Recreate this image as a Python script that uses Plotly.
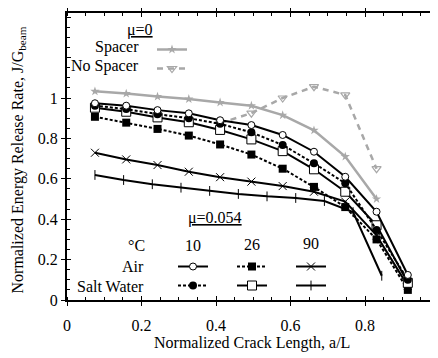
import plotly.graph_objects as go

# ---------------- data ----------------
x_main = [0.075, 0.159, 0.243, 0.327, 0.411, 0.495, 0.579, 0.663, 0.747, 0.831, 0.915]
air10 = [0.974, 0.962, 0.94, 0.924, 0.89, 0.866, 0.817, 0.734, 0.61, 0.437, 0.124]
salt10 = [0.962, 0.945, 0.92, 0.90, 0.872, 0.83, 0.767, 0.677, 0.578, 0.347, 0.10]
air26 = [0.907, 0.878, 0.847, 0.814, 0.77, 0.72, 0.65, 0.56, 0.46, 0.30, 0.05]
salt26 = [0.952, 0.932, 0.904, 0.88, 0.842, 0.795, 0.737, 0.647, 0.536, 0.37, 0.085]
air90 = [0.729, 0.696, 0.668, 0.635, 0.608, 0.586, 0.564, 0.536, 0.487, 0.32, 0.07]
x_salt90 = [0.075, 0.152, 0.229, 0.306, 0.383, 0.460, 0.537, 0.614, 0.691, 0.768, 0.845]
salt90 = [0.619, 0.594, 0.573, 0.556, 0.54, 0.525, 0.513, 0.505, 0.49, 0.435, 0.12]
x_spacer = [0.075, 0.159, 0.243, 0.327, 0.411, 0.495, 0.579, 0.663, 0.747, 0.831]
spacer = [1.033, 1.022, 1.007, 0.995, 0.978, 0.962, 0.915, 0.84, 0.71, 0.50]
x_nospacer = [0.411, 0.495, 0.579, 0.663, 0.747, 0.831]
nospacer = [0.875, 0.925, 1.0, 1.056, 1.015, 0.65]

y_label_vals = [0, 0.2, 0.4, 0.6, 0.8, 1.0]
y_label_text = ["0", "0.2", "0.4", "0.6", "0.8", "1"]
y_major_vals = [0, 0.2, 0.4, 0.6, 0.8, 1.0, 1.2, 1.4]
x_label_vals = [0, 0.2, 0.4, 0.6, 0.8]
x_label_text = ["0", "0.2", "0.4", "0.6", "0.8"]

# ---------------- layout helpers (page pixel coordinates) ----------------
OFF = 8                      # page body margin
FIG_W, FIG_H = 430, 350
PL, PR, PT, PB = 67, 438, 13, 300   # plot area in page pixels
PW, PH = PR - PL, PB - PT
FONT = "Liberation Serif"
XR = [0, PW / 372.5]
YR = [0, PH / 202.0]


def px(x):
    return (x - PL) / PW


def py(y):
    return (PB - y) / PH


fig = go.Figure()

GRAY = "#a8a8a8"
BLK = "black"
DASH = "3px,2px"

fig.add_trace(go.Scatter(x=x_spacer, y=spacer, mode="lines+markers", name=" ",
                         line=dict(color=GRAY, width=2.5),
                         marker=dict(symbol="star", size=7, color=GRAY),
                         legend="legend4"))
fig.add_trace(go.Scatter(x=x_nospacer, y=nospacer, mode="lines+markers", name=" ",
                         line=dict(color=GRAY, width=2.5, dash="6px,5px"),
                         marker=dict(symbol="triangle-down-open", size=8, color=GRAY,
                                     line=dict(width=1.2, color=GRAY)),
                         legend="legend4"))

fig.add_trace(go.Scatter(x=x_main, y=air90, mode="lines+markers", name=" ",
                         line=dict(color=BLK, width=2),
                         marker=dict(symbol="x-thin-open", size=8, color=BLK,
                                     line=dict(width=1, color=BLK)),
                         legend="legend3"))
fig.add_trace(go.Scatter(x=x_salt90, y=salt90, mode="lines+markers", name=" ",
                         line=dict(color=BLK, width=2),
                         marker=dict(symbol="line-ns-open", size=7, color=BLK,
                                     line=dict(width=1, color=BLK)),
                         legend="legend3"))
fig.add_trace(go.Scatter(x=x_main, y=air26, mode="lines+markers", name=" ",
                         line=dict(color=BLK, width=2, dash=DASH),
                         marker=dict(symbol="square", size=8, color=BLK),
                         legend="legend2"))
fig.add_trace(go.Scatter(x=x_main, y=salt26, mode="lines+markers", name=" ",
                         line=dict(color=BLK, width=2),
                         marker=dict(symbol="square", size=9, color="white",
                                     line=dict(width=1, color=BLK)),
                         legend="legend2"))
fig.add_trace(go.Scatter(x=x_main, y=salt10, mode="lines+markers", name=" ",
                         line=dict(color=BLK, width=2, dash=DASH),
                         marker=dict(symbol="circle", size=8, color=BLK),
                         legend="legend"))
fig.add_trace(go.Scatter(x=x_main, y=air10, mode="lines+markers", name=" ",
                         line=dict(color=BLK, width=2),
                         marker=dict(symbol="circle", size=7, color="white",
                                     line=dict(width=1, color=BLK)),
                         legend="legend"))
# empty trace so the overlay tick axes get drawn
fig.add_trace(go.Scatter(x=[], y=[], xaxis="x2", yaxis="y2", showlegend=False,
                         hoverinfo="skip"))


def leg(x, y, order):
    return dict(x=px(x), y=py(y), xanchor="left", yanchor="top",
                bgcolor="rgba(0,0,0,0)", borderwidth=0,
                font=dict(family=FONT, size=9, color="black"),
                traceorder=order, itemwidth=30, tracegroupgap=0)


lg1 = leg(173, 252, "reversed")
lg2 = leg(232, 252, "normal")
lg3 = leg(291, 252, "normal")
lg4 = leg(152, 35, "normal")

ann_font = dict(family=FONT, size=16, color="black")


def ann(text, x, y, xanchor="center", **kw):
    return dict(text=text, x=px(x), y=py(y), xref="paper", yref="paper",
                xanchor=xanchor, yanchor="middle", showarrow=False, font=ann_font, **kw)


annotations = [
    ann("<u>μ=0</u>", 140, 30),
    ann("Spacer", 141, 47, "right"),
    ann("No Spacer", 141, 66, "right"),
    ann("<u>μ=0.054</u>", 215, 218),
    ann("°C", 147, 245, "right"),
    ann("10", 193, 245),
    ann("26", 252, 244),
    ann("90", 311, 243),
    ann("Air", 146, 266, "right"),
    ann("Salt Water", 146, 286, "right"),
    ann("Normalized Energy Release Rate, J/G<sub>beam</sub>", 17.5, 160, textangle=-90),
    ann("Normalized Crack Length, a/L", 252, 343),
]

axis_common = dict(showgrid=False, zeroline=False, showline=True, linecolor="black",
                   linewidth=2, ticks="outside", ticklen=4, tickwidth=1.2, tickcolor="black",
                   tickfont=dict(family=FONT, size=16, color="black"))
minor = dict(dtick=0.05, ticks="inside", ticklen=3, tickwidth=1, tickcolor="black")
overlay_common = dict(showticklabels=False, showgrid=False, zeroline=False, showline=False,
                      ticks="inside", ticklen=4, tickwidth=1.2, tickcolor="black")

fig.update_layout(
    width=FIG_W, height=FIG_H,
    margin=dict(l=PL - OFF, r=(OFF + FIG_W) - PR, t=PT - OFF, b=(OFF + FIG_H) - PB),
    paper_bgcolor="white", plot_bgcolor="white",
    showlegend=True,
    legend=lg1, legend2=lg2, legend3=lg3, legend4=lg4,
    annotations=annotations,
    xaxis=dict(range=XR, tickvals=x_label_vals, ticktext=x_label_text,
               mirror="allticks", ticklabelstandoff=6, minor=minor,
               **axis_common),
    yaxis=dict(range=YR, tickvals=y_label_vals, ticktext=y_label_text,
               mirror=False, minor=minor, **axis_common),
    # overlay axes: inner half of the major ticks so they cross the axis lines
    xaxis2=dict(overlaying="x", anchor="y2", side="bottom", range=XR, tickvals=x_label_vals,
                mirror="ticks", **overlay_common),
    yaxis2=dict(overlaying="y", anchor="x2", side="left", range=YR, tickvals=y_major_vals,
                **overlay_common),
)

fig.write_html("out.html")
